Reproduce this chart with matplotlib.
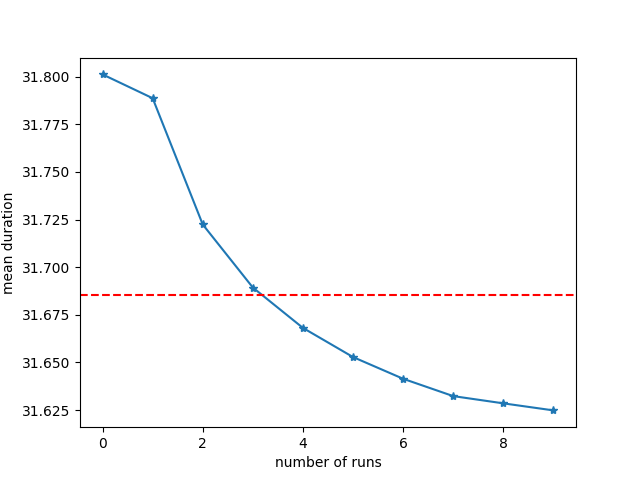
import matplotlib
matplotlib.use("Agg")
import matplotlib.pyplot as plt

# mean duration after each number of runs
runs = [0, 1, 2, 3, 4, 5, 6, 7, 8, 9]
mean_duration = [31.8012, 31.7887, 31.7224, 31.6893, 31.6681, 31.6528, 31.6414, 31.6323, 31.6285, 31.6248]
reference_level = 31.6852

plt.figure(figsize=(6.4, 4.8), dpi=100)
plt.plot(runs, mean_duration, marker='*')
plt.axhline(reference_level, color='r', linestyle='--')
plt.xlabel('number of runs')
plt.ylabel('mean duration')
plt.savefig('out.png')
